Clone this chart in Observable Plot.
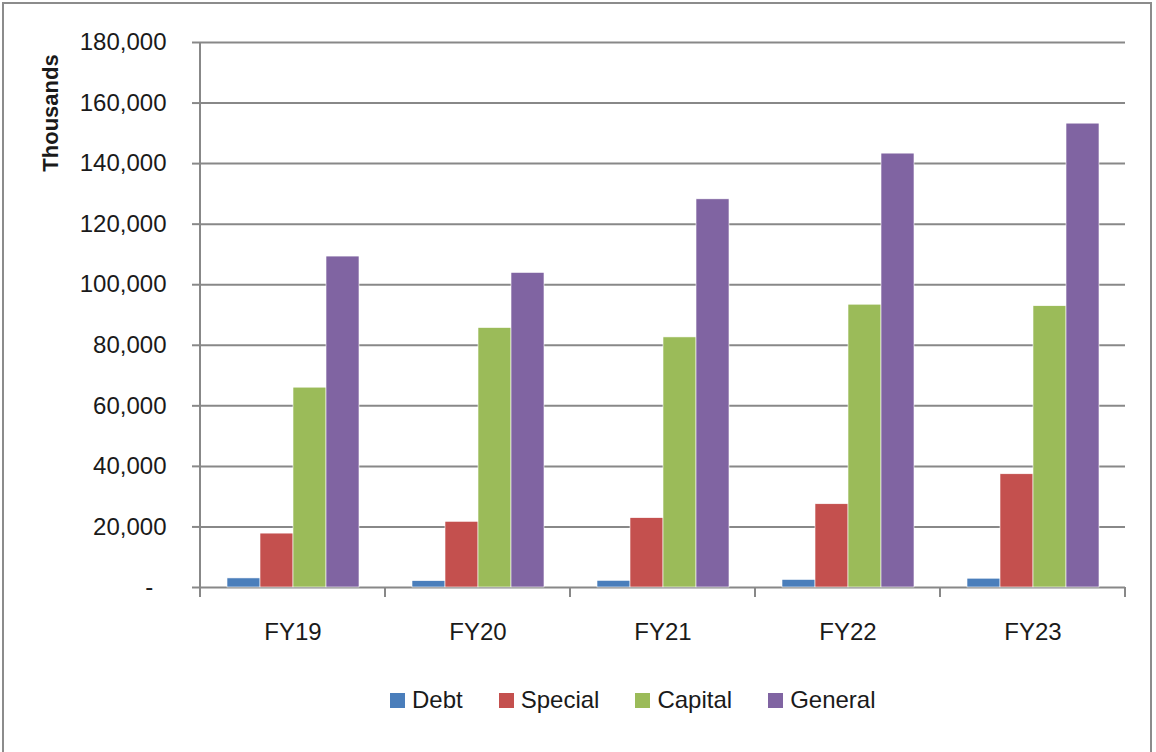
<!DOCTYPE html>
<html>
<head>
<meta charset="utf-8">
<script src="https://cdn.jsdelivr.net/npm/d3@7"></script>
<script src="https://cdn.jsdelivr.net/npm/@observablehq/plot@0.6"></script>
<style>
  html, body { margin: 0; padding: 0; background: #fff; overflow: hidden; }
  body { width: 1156px; height: 752px; position: relative; font-family: "Liberation Sans", Arial, sans-serif; color: #1a1a1a; }
  #chart svg { display: block; }
  #frame { position: absolute; left: 2px; top: 2px; width: 1150px; height: 800px; border: 2px solid #8c8c8c; pointer-events: none; box-sizing: border-box; }
  #legend { display: flex; align-items: center; height: 80px; padding-left: 390px; gap: 36px; font-size: 24px; }
  .item { display: flex; align-items: center; gap: 7px; }
  .sw { width: 15px; height: 15px; display: inline-block; }
</style>
</head>
<body>
<div id="chart"></div>
<div id="legend"></div>
<div id="frame"></div>
<script>
const years = ["FY19", "FY20", "FY21", "FY22", "FY23"];
const series = ["Debt", "Special", "Capital", "General"];
const debt    = [3000, 2100, 2200, 2500, 2900];
const special = [17800, 21700, 22900, 27500, 37400];
const capital = [66000, 85700, 82600, 93400, 92900];
const general = [109300, 103900, 128200, 143300, 153200];
const yTicks = [0, 20000, 40000, 60000, 80000, 100000, 120000, 140000, 160000, 180000];
const colors = ["#4a7ebb", "#c4504e", "#9bbb59", "#8064a2"];
const yLabel = "Thousands";

const valuesBySeries = [debt, special, capital, general];
const data = years.flatMap((yr, i) => series.map((s, j) => ({year: yr, series: s, value: valuesBySeries[j][i]})));

const gridColor = "#888888";
const fmt = d3.format(",");

const plot = Plot.plot({
  width: 1156,
  height: 660,
  marginLeft: 200,
  marginRight: 31,
  marginTop: 42,
  marginBottom: 73,
  style: {fontFamily: '"Liberation Sans", Arial, sans-serif', fontSize: "24px", color: "#1a1a1a", background: "white"},
  fx: {domain: years, padding: 0, label: null},
  x: {domain: series, paddingInner: 0, paddingOuter: 0.761, axis: null},
  y: {domain: [0, 180000], label: null},
  color: {domain: series, range: colors},
  marks: [
    Plot.gridY(yTicks, {stroke: gridColor, strokeOpacity: 1, strokeWidth: 2}),
    Plot.barY(data, {fx: "year", x: "series", y: "value", fill: "series", stroke: "white", strokeWidth: 0.6}),
    Plot.axisY(yTicks, {
      tickSize: 8, tickPadding: 26,
      tickFormat: d => d === 0 ? "-\u00a0\u00a0" : fmt(d),
      stroke: gridColor, strokeWidth: 2, strokeOpacity: 1,
      fontSize: 24, fill: "#1a1a1a", label: null
    }),
    Plot.axisFx({anchor: "bottom", tickSize: 0, tickPadding: 35, fontSize: 24, fill: "#1a1a1a", label: null})
  ]
});

document.getElementById("chart").appendChild(plot);

// axis line and category boundary ticks (Excel style), from Plot's scales
const fxS = plot.scale("fx");
const yS = plot.scale("y");
const y0 = yS.apply(0);
const yTop = yS.apply(180000);
const edges = years.map(yr => fxS.apply(yr)).concat([fxS.apply(years[years.length - 1]) + fxS.bandwidth]);
const svg = d3.select(plot);
const g = svg.append("g").attr("stroke", gridColor).attr("stroke-width", 2);
g.append("line").attr("x1", edges[0]).attr("x2", edges[0]).attr("y1", yTop).attr("y2", y0 + 10);
edges.slice(1).forEach(x => {
  g.append("line").attr("x1", x).attr("x2", x).attr("y1", y0).attr("y2", y0 + 10);
});
svg.append("text")
  .attr("transform", `translate(58,${(yTop + 71)}) rotate(-90)`)
  .attr("text-anchor", "middle")
  .attr("font-weight", "bold")
  .attr("font-size", 22)
  .attr("fill", "#1a1a1a")
  .text(yLabel);

// legend
const legend = d3.select("#legend");
series.forEach((s, i) => {
  const it = legend.append("div").attr("class", "item");
  it.append("span").attr("class", "sw").style("background", colors[i]);
  it.append("span").text(s);
});
</script>
</body>
</html>
